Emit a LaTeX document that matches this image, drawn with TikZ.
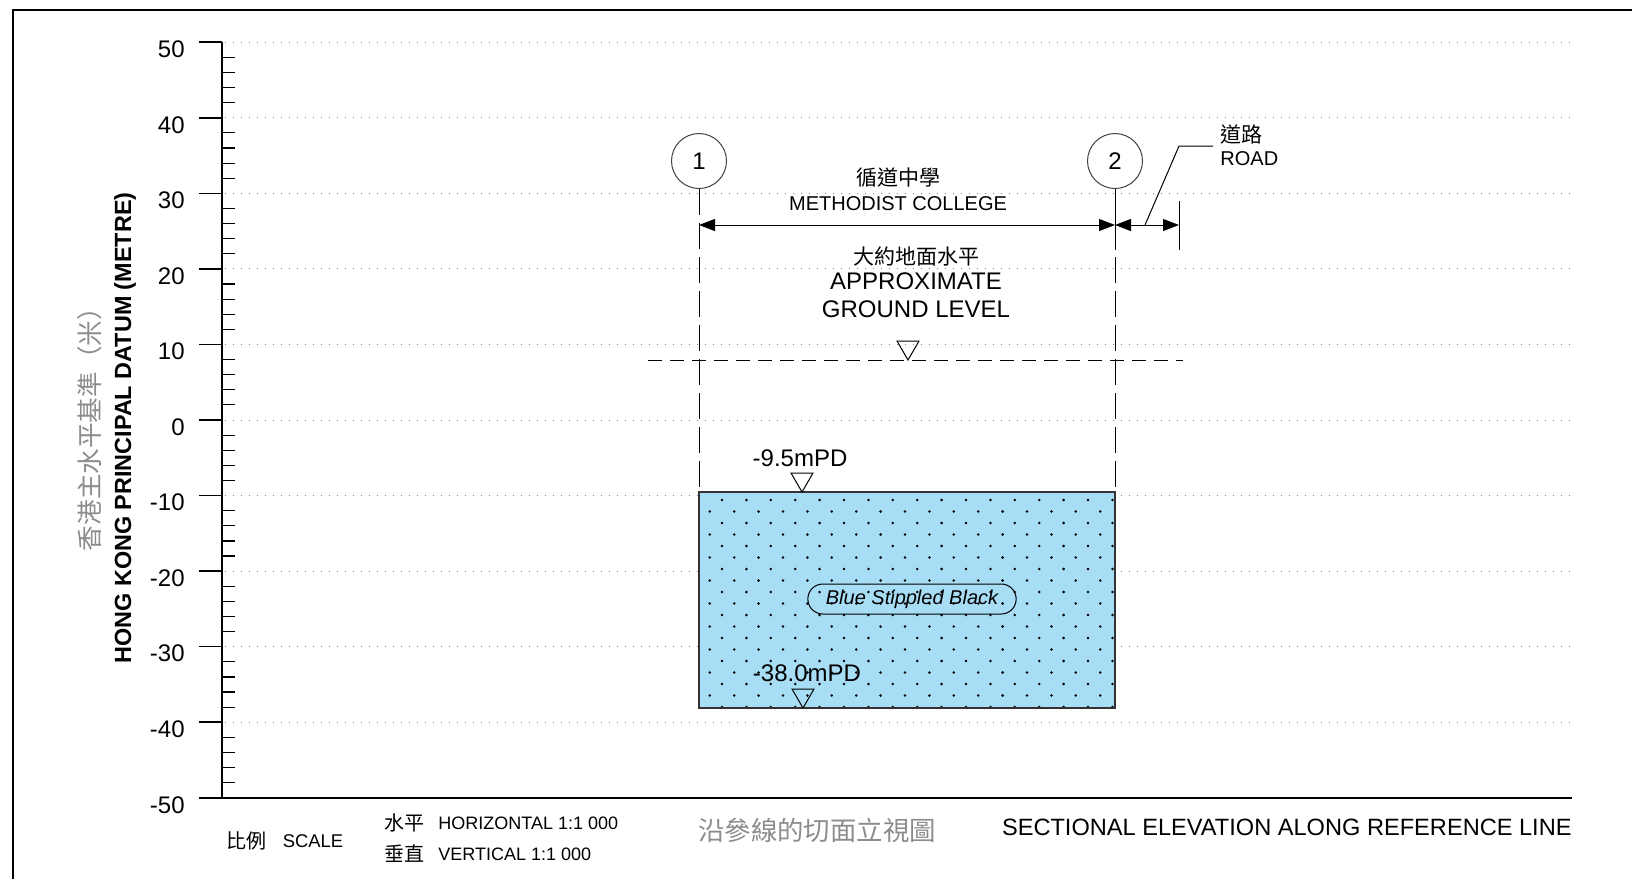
\documentclass[tikz,border=0pt]{standalone}
\usepackage{fontspec}
\setmainfont{Liberation Sans}
\newfontfamily\cjk{Noto Sans CJK TC}
\usetikzlibrary{arrows.meta}

\definecolor{stipple}{RGB}{168,221,246}
\definecolor{greytext}{RGB}{140,140,140}

% marca de nivel (triangulo invertido, vertice no ponto)
\newcommand{\lvlmark}[1]{\draw[line width=0.5pt] (#1) -- ++(-11,-19) -- ++(22,0) -- cycle;}

\tikzset{
  num/.style={font=\fontsize{12}{14}\selectfont, inner sep=0pt},
  lbl/.style={font=\fontsize{10}{12}\selectfont, inner sep=0pt},
  zh/.style={font=\cjk\fontsize{10.5}{12}\selectfont, inner sep=0pt},
  gridline/.style={gray, line width=0.5pt, dash pattern=on 0.6pt off 3.4pt},
  refline/.style={line width=0.5pt, dash pattern=on 13pt off 4pt},
  groundline/.style={line width=0.5pt, dash pattern=on 7pt off 4pt},
  dimline/.style={line width=0.5pt, {Triangle[length=8pt,width=6pt]}-{Triangle[length=8pt,width=6pt]}},
  refcircle/.style={circle, draw=black!75, line width=0.5pt, minimum size=27.5pt, inner sep=0pt, num}
}

\begin{document}
\begin{tikzpicture}[x=0.5pt, y=-0.5pt]
\useasboundingbox (0,0) rectangle (1632,879);

% Moldura
\draw[line width=1.4pt] (13,879) -- (13,10) -- (1632,10);

% Eixo vertical e escala
\draw[line width=0.8pt] (222,42.2) -- (222,797.8);
\draw[line width=0.8pt] (199,797.8) -- (1572,797.8);
\foreach \v in {-50,-40,...,50}{
  \pgfmathsetmacro{\yy}{420-7.556*\v}
  \draw[line width=0.8pt] (199,\yy) -- (222,\yy);
  \node[num, anchor=east] (lab\v) at (185,\yy+7) {\v};
}
\foreach \v in {-40,-30,...,50}{
  \pgfmathsetmacro{\yy}{420-7.556*\v}
  \draw[gridline] (225,\yy) -- (1572,\yy);
}
\foreach \m in {-50,-40,...,40}{
  \foreach \k in {2,4,6,8}{
    \pgfmathsetmacro{\yy}{420-7.556*(\m+\k)}
    \draw[line width=0.6pt] (222,\yy) -- (235,\yy);
  }
}

% Titulos do eixo
\node[rotate=90, font=\bfseries\fontsize{11.7}{14}\selectfont, inner sep=0pt] (yaxis) at (125,428) {HONG KONG PRINCIPAL DATUM (METRE)};
\node[rotate=90, font=\cjk\fontsize{12.8}{14}\selectfont, text=greytext, inner sep=0pt] (yaxiszh) at (90,423) {香港主水平基準（米）};

% Camada
\coordinate (boxnw) at (699,492);
\coordinate (boxse) at (1115,708);
\fill[stipple] (boxnw) rectangle (boxse);
\begin{scope}
\clip (boxnw) rectangle (boxse);
\foreach \r in {0,...,18}{
  \foreach \c in {0,...,17}{
    \pgfmathsetmacro{\xx}{722-12.2*mod(\r,2)+24.4*\c}
    \fill (\xx,{500+11.5*\r}) circle (0.7pt);
  }
}
\end{scope}
\draw[line width=0.6pt, draw=black!80] (boxnw) rectangle (boxse);
\node[draw, rounded corners=7.5pt, minimum height=15pt, inner xsep=9pt, inner ysep=0pt, font=\itshape\fontsize{10}{12}\selectfont, line width=0.5pt] (strat) at (912,599) {Blue Stippled Black};

% Niveis
\coordinate (toplvl) at (802,492);
\lvlmark{toplvl}
\node[num] (toplab) at (800,458) {-9.5mPD};
\coordinate (botlvl) at (803,708);
\lvlmark{botlvl}
\node[num] (botlab) at (807,673) {-38.0mPD};

% Linhas de referencia 1 e 2
\node[refcircle] (r1) at (699,161) {1};
\node[refcircle] (r2) at (1115,161) {2};
\draw[refline] (r1.south) -- (r1.south |- boxnw);
\draw[refline] (r2.south) -- (r2.south |- boxnw);

% Cotas
\coordinate (d1) at (699,225);
\coordinate (d2) at (1115,225);
\coordinate (d3) at (1179,225);
\draw[dimline] (d1) -- (d2);
\draw[dimline] (d2) -- (d3);
\draw[line width=0.5pt] (d2) ++(0,-24) -- ++(0,49);
\draw[line width=0.5pt] (d3) ++(0,-24) -- ++(0,49);
\node[zh] (schoolzh) at (898,178) {循道中學};
\node[lbl] (school) at (898,204) {METHODIST COLLEGE};

% Estrada
\node[zh, anchor=west] (roadzh) at (1220,135) {道路};
\node[lbl, anchor=west] (road) at (1220,159) {ROAD};
\coordinate (ld) at (1145,225);
\draw[line width=0.5pt] (ld) -- ++(34,-79) -- ++(34,0);

% Nivel do terreno
\node[zh] (groundzh) at (916,257) {大約地面水平};
\node[num] (ground1) at (916,281) {APPROXIMATE};
\node[num] (ground2) at (916,309) {GROUND LEVEL};
\coordinate (glvl) at (908,360);
\draw[groundline] (648,360) -- (1183,360);
\lvlmark{glvl}

% Legenda inferior
\node[font=\cjk\fontsize{10}{12}\selectfont, inner sep=0pt] (scalezh) at (246,841) {比例};
\node[font=\fontsize{9.2}{11}\selectfont, inner sep=0pt] (scale) at (313,841) {SCALE};
\node[font=\cjk\fontsize{10}{12}\selectfont, inner sep=0pt] (horzh) at (404,823) {水平};
\node[font=\fontsize{9}{11}\selectfont, inner sep=0pt, anchor=west] (hor) at (438,823) {HORIZONTAL 1:1 000};
\node[font=\cjk\fontsize{10}{12}\selectfont, inner sep=0pt] (verzh) at (404,854) {垂直};
\node[font=\fontsize{9}{11}\selectfont, inner sep=0pt, anchor=west] (ver) at (438,854) {VERTICAL 1:1 000};
\node[font=\cjk\fontsize{13.2}{15}\selectfont, text=greytext, inner sep=0pt] (titlezh) at (817,830) {沿參線的切面立視圖};
\node[num, anchor=east, font=\fontsize{11.8}{14}\selectfont] (title) at (1572,827) {SECTIONAL ELEVATION ALONG REFERENCE LINE};

%\draw[help lines, step=100] (0,0) grid (1632,879);
\end{tikzpicture}
\end{document}
